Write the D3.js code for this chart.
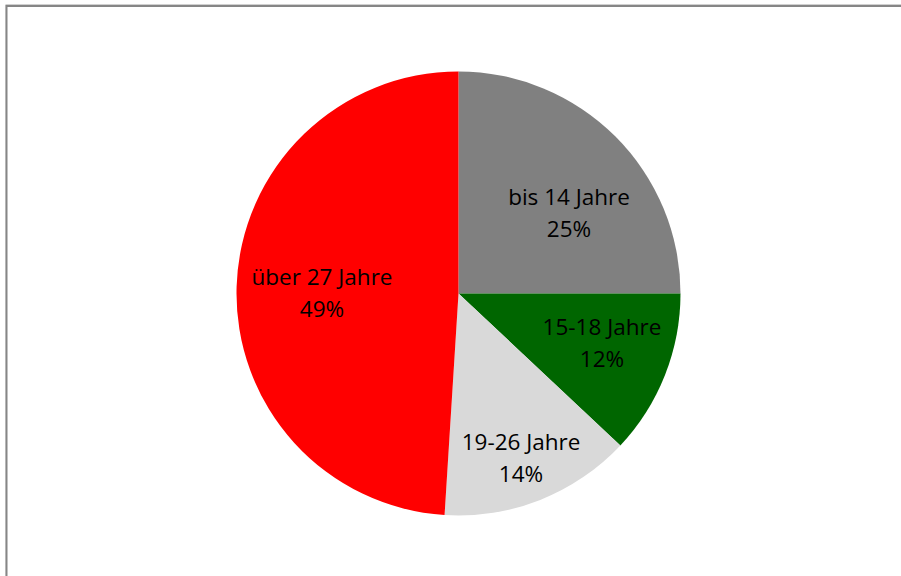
<!DOCTYPE html>
<html>
<head>
<meta charset="utf-8">
<script src="https://cdn.jsdelivr.net/npm/d3@7"></script>
<style>
  html, body { margin: 0; padding: 0; background: #fff; }
  svg { display: block; }
</style>
</head>
<body>
<svg id="chart" width="901" height="576"></svg>
<script>
const categories = ["bis 14 Jahre", "15-18 Jahre", "19-26 Jahre", "über 27 Jahre"];
const values = [25, 12, 14, 49];
const percentLabels = ["25%", "12%", "14%", "49%"];
const colors = ["#808080", "#006600", "#d9d9d9", "#ff0000"];

// layout (not data)
const W = 901, H = 576;
const cx = 458.5, cy = 293.5, R = 222;
const labelRadiusFactor = 0.65;
const labelNudge = [[8.5, 22.5], [9.3, -2.6], [9.4, 31.3], [7.7, 5.0]];

const svg = d3.select("#chart");

// chart frame
svg.append("rect")
  .attr("x", 6).attr("y", 4.5)
  .attr("width", 1000).attr("height", 1000)
  .attr("fill", "none")
  .attr("stroke", "#d0d0d0").attr("stroke-width", 1);
svg.append("rect")
  .attr("x", 6.5).attr("y", 6)
  .attr("width", 1000).attr("height", 1000)
  .attr("fill", "none")
  .attr("stroke", "#868686").attr("stroke-width", 2);

const data = categories.map((c, i) => ({ cat: c, value: values[i], pct: percentLabels[i], color: colors[i], idx: i }));

const pie = d3.pie().sort(null).value(d => d.value);
const arcs = pie(data);
const arc = d3.arc().innerRadius(0).outerRadius(R);

const g = svg.append("g").attr("transform", `translate(${cx},${cy})`);

g.selectAll("path.slice")
  .data(arcs)
  .join("path")
  .attr("class", "slice")
  .attr("d", arc)
  .attr("fill", d => d.data.color);

const labels = g.selectAll("text.lbl")
  .data(arcs)
  .join("text")
  .attr("class", "lbl")
  .attr("transform", d => {
    const r = R * labelRadiusFactor;
    const a = (d.startAngle + d.endAngle) / 2;
    const n = labelNudge[d.data.idx];
    return `translate(${r * Math.sin(a) + n[0]},${-r * Math.cos(a) + n[1]})`;
  })
  .attr("text-anchor", "middle")
  .attr("font-family", "'Open Sans', 'Liberation Sans', sans-serif")
  .attr("font-size", 22.5)
  .attr("fill", "#000");

labels.append("tspan").attr("x", 0).attr("y", -9).text(d => d.data.cat);
labels.append("tspan").attr("x", 0).attr("y", 23).text(d => d.data.pct);
</script>
</body>
</html>
